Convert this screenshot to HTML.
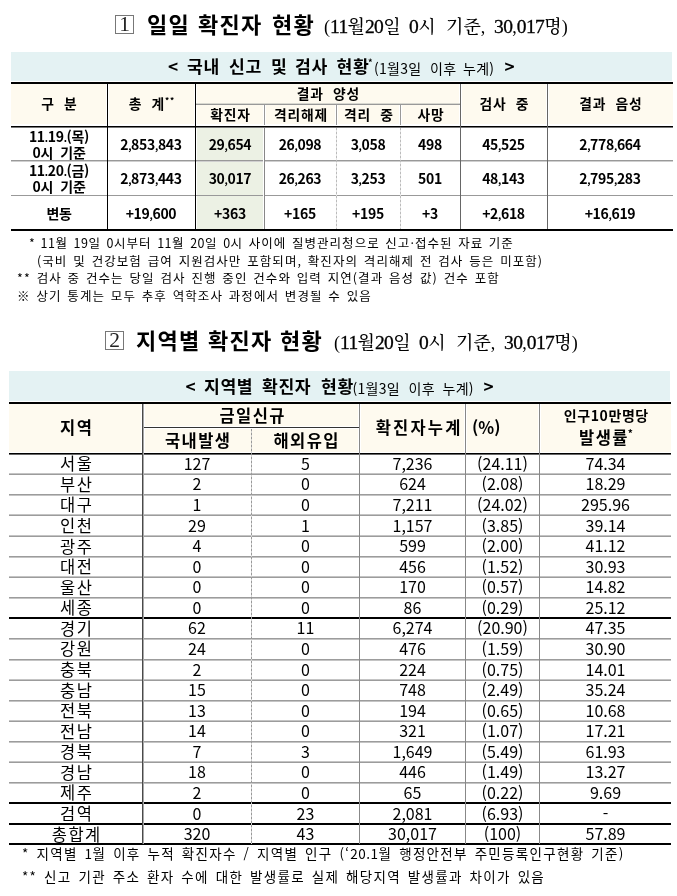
<!DOCTYPE html>
<html lang="ko"><head><meta charset="utf-8"><title>코로나19 확진자 현황</title>
<style>
html,body{margin:0;padding:0;background:#fff;}
body{width:677px;height:896px;position:relative;overflow:hidden;color:#000;}
.r{position:absolute;}
.w{position:absolute;white-space:nowrap;}
.d{letter-spacing:0.5px;}
.sd{font-size:19.5px;letter-spacing:-0.6px;-webkit-text-stroke:0.3px #000;}
.sh{font-weight:500;}
.cm{font-size:0.72em;letter-spacing:-0.4px;line-height:0;}
.cm2{letter-spacing:-1.2px;}
.t{position:absolute;display:flex;align-items:center;justify-content:center;text-align:center;white-space:nowrap;line-height:1;}
sup{font-size:0.6em;vertical-align:top;line-height:1;position:relative;top:-0.5px;}
.sm{font-size:12.5px;font-weight:400;letter-spacing:0.5px;}
</style></head><body>
<div class="r" style="left:115px;top:15px;width:19px;height:19px;background:transparent;border:1px solid #777;box-sizing:border-box;"></div>
<div class="t" style="left:115px;top:15px;width:19px;height:19px;font-family:'Liberation Serif', 'Noto Serif CJK SC', serif;font-size:21.5px;color:#222;padding-top:0px;box-sizing:border-box;"><span>1</span></div>
<div class="w" style="left:147px;top:8px;font-family:'Noto Sans CJK KR', sans-serif;font-size:22px;font-weight:700;letter-spacing:1.3px;line-height:30px;">일일</div>
<div class="w" style="left:198px;top:8px;font-family:'Noto Sans CJK KR', sans-serif;font-size:22px;font-weight:700;letter-spacing:1.3px;line-height:30px;">확진자</div>
<div class="w" style="left:272px;top:8px;font-family:'Noto Sans CJK KR', sans-serif;font-size:22px;font-weight:700;letter-spacing:1.3px;line-height:30px;">현황</div>
<div class="w" style="left:324px;top:11.5px;font-family:'Liberation Serif', 'Noto Serif CJK SC', serif;font-size:18px;line-height:30px;">(<span class="sd">11</span><span class="sh">월</span><span class="sd">20</span><span class="sh">일</span></div>
<div class="w" style="left:409px;top:11.5px;font-family:'Liberation Serif', 'Noto Serif CJK SC', serif;font-size:18px;line-height:30px;"><span class="sd">0</span><span class="sh">시</span></div>
<div class="w" style="left:446px;top:11.5px;font-family:'Liberation Serif', 'Noto Serif CJK SC', serif;font-size:18px;line-height:30px;"><span class="sh">기준</span>,</div>
<div class="w" style="left:494px;top:11.5px;font-family:'Liberation Serif', 'Noto Serif CJK SC', serif;font-size:18px;line-height:30px;"><span class="sd">30</span>,<span class="sd">017</span><span class="sh">명</span>)</div>
<div class="r" style="left:11px;top:52px;width:661px;height:29px;background:#e4f2f3;"></div>
<div class="w" style="left:168px;top:56px;font-family:'Noto Sans CJK KR', sans-serif;font-size:17.2px;font-weight:700;line-height:20px;letter-spacing:0.6px;">&lt;</div>
<div class="w" style="left:187px;top:56px;font-family:'Noto Sans CJK KR', sans-serif;font-size:17.2px;font-weight:700;line-height:20px;letter-spacing:0.6px;">국내</div>
<div class="w" style="left:229px;top:56px;font-family:'Noto Sans CJK KR', sans-serif;font-size:17.2px;font-weight:700;line-height:20px;letter-spacing:0.6px;">신고</div>
<div class="w" style="left:271px;top:56px;font-family:'Noto Sans CJK KR', sans-serif;font-size:17.2px;font-weight:700;line-height:20px;letter-spacing:0.6px;">및</div>
<div class="w" style="left:295px;top:56px;font-family:'Noto Sans CJK KR', sans-serif;font-size:17.2px;font-weight:700;line-height:20px;letter-spacing:0.6px;">검사</div>
<div class="w" style="left:336.5px;top:56px;font-family:'Noto Sans CJK KR', sans-serif;font-size:17.2px;font-weight:700;line-height:20px;letter-spacing:0.6px;">현황</div>
<div class="w" style="left:368px;top:56px;font-family:'Noto Sans CJK KR', sans-serif;font-size:17.2px;font-weight:700;line-height:20px;letter-spacing:0.6px;"><span style="font-size:9px;vertical-align:top;position:relative;top:-3px">*</span></div>
<div class="w" style="left:374px;top:57.5px;font-family:'Noto Sans CJK KR', sans-serif;font-size:14px;font-weight:400;line-height:20px;letter-spacing:0.3px;">(1월3일</div>
<div class="w" style="left:430px;top:57.5px;font-family:'Noto Sans CJK KR', sans-serif;font-size:14px;font-weight:400;line-height:20px;letter-spacing:0.3px;">이후</div>
<div class="w" style="left:463px;top:57.5px;font-family:'Noto Sans CJK KR', sans-serif;font-size:14px;font-weight:400;line-height:20px;letter-spacing:0.3px;">누계)</div>
<div class="w" style="left:504.5px;top:56px;font-family:'Noto Sans CJK KR', sans-serif;font-size:17.2px;font-weight:700;line-height:20px;letter-spacing:0.6px;">&gt;</div>
<div class="r" style="left:11px;top:82px;width:662px;height:2px;background:#000;"></div>
<div class="r" style="left:11px;top:84px;width:662px;height:40px;background:#fefaef;"></div>
<div class="r" style="left:11px;top:126px;width:662px;height:1px;background:#000;"></div>
<div class="r" style="left:11px;top:127px;width:662px;height:1px;background:#777;"></div>
<div class="r" style="left:197px;top:128px;width:66px;height:101px;background:#ecf1e4;"></div>
<div class="r" style="left:106px;top:84px;width:1px;height:41px;background:#fff;"></div>
<div class="r" style="left:108px;top:84px;width:1px;height:41px;background:#fff;"></div>
<div class="r" style="left:194px;top:84px;width:1px;height:41px;background:#fff;"></div>
<div class="r" style="left:196px;top:84px;width:1px;height:41px;background:#fff;"></div>
<div class="r" style="left:459px;top:84px;width:1px;height:41px;background:#fff;"></div>
<div class="r" style="left:461px;top:84px;width:1px;height:41px;background:#fff;"></div>
<div class="r" style="left:546px;top:84px;width:1px;height:41px;background:#fff;"></div>
<div class="r" style="left:548px;top:84px;width:1px;height:41px;background:#fff;"></div>
<div class="r" style="left:263px;top:105px;width:1px;height:20px;background:#fff;"></div>
<div class="r" style="left:265px;top:105px;width:1px;height:20px;background:#fff;"></div>
<div class="r" style="left:335px;top:105px;width:1px;height:20px;background:#fff;"></div>
<div class="r" style="left:337px;top:105px;width:1px;height:20px;background:#fff;"></div>
<div class="r" style="left:399px;top:105px;width:1px;height:20px;background:#fff;"></div>
<div class="r" style="left:401px;top:105px;width:1px;height:20px;background:#fff;"></div>
<div class="r" style="left:196px;top:104px;width:264px;height:1px;background:#999;"></div>
<div class="r" style="left:196px;top:103px;width:264px;height:1px;background:#d8d8d0;"></div>
<div class="r" style="left:11px;top:160px;width:662px;height:1px;background:#999;"></div>
<div class="r" style="left:11px;top:161px;width:662px;height:1px;background:#cfcfcf;"></div>
<div class="r" style="left:11px;top:195px;width:662px;height:1px;background:#999;"></div>
<div class="r" style="left:11px;top:229px;width:662px;height:2px;background:#000;"></div>
<div class="r" style="left:107px;top:84px;width:1px;height:145px;background:#000;"></div>
<div class="r" style="left:195px;top:84px;width:1px;height:145px;background:#000;"></div>
<div class="r" style="left:460px;top:84px;width:1px;height:145px;background:#666;"></div>
<div class="r" style="left:547px;top:84px;width:1px;height:145px;background:#666;"></div>
<div class="r" style="left:264px;top:105px;width:1px;height:20px;background:#999;"></div>
<div class="r" style="left:336px;top:105px;width:1px;height:20px;background:#999;"></div>
<div class="r" style="left:400px;top:105px;width:1px;height:20px;background:#999;"></div>
<div class="r" style="left:264px;top:128px;width:1px;height:101px;background:#888;"></div>
<div class="r" style="left:263px;top:128px;width:1px;height:101px;background:#fff;"></div>
<div class="r" style="left:336px;top:128px;width:1px;height:101px;background:repeating-linear-gradient(to bottom,#bbb 0 2px,#e4e4e4 2px 4px);"></div>
<div class="r" style="left:400px;top:128px;width:1px;height:101px;background:repeating-linear-gradient(to bottom,#bbb 0 2px,#e4e4e4 2px 4px);"></div>
<div class="t" style="left:11px;top:83px;width:96px;height:41px;font-family:'Noto Sans CJK KR', sans-serif;font-size:13.8px;font-weight:700;letter-spacing:0.8px;padding-left:0.8px;box-sizing:border-box;"><span>구&nbsp; 분</span></div>
<div class="t" style="left:108px;top:83px;width:87px;height:41px;font-family:'Noto Sans CJK KR', sans-serif;font-size:13.8px;font-weight:700;letter-spacing:0.8px;padding-left:0.8px;box-sizing:border-box;"><span>총&nbsp; 계<sup>**</sup></span></div>
<div class="t" style="left:196px;top:83.5px;width:264px;height:20px;font-family:'Noto Sans CJK KR', sans-serif;font-size:13.8px;font-weight:700;letter-spacing:0.8px;padding-left:0.8px;box-sizing:border-box;"><span>결과&nbsp; 양성</span></div>
<div class="t" style="left:196px;top:104.5px;width:68px;height:20px;font-family:'Noto Sans CJK KR', sans-serif;font-size:13.8px;font-weight:700;letter-spacing:0.8px;padding-left:0.8px;box-sizing:border-box;"><span>확진자</span></div>
<div class="t" style="left:265px;top:104.5px;width:71px;height:20px;font-family:'Noto Sans CJK KR', sans-serif;font-size:13.8px;font-weight:700;letter-spacing:0.8px;padding-left:0.8px;box-sizing:border-box;"><span>격리해제</span></div>
<div class="t" style="left:337px;top:104.5px;width:63px;height:20px;font-family:'Noto Sans CJK KR', sans-serif;font-size:13.8px;font-weight:700;letter-spacing:0.8px;padding-left:0.8px;box-sizing:border-box;"><span>격리&nbsp; 중</span></div>
<div class="t" style="left:401px;top:104.5px;width:59px;height:20px;font-family:'Noto Sans CJK KR', sans-serif;font-size:13.8px;font-weight:700;letter-spacing:0.8px;padding-left:0.8px;box-sizing:border-box;"><span>사망</span></div>
<div class="t" style="left:461px;top:83px;width:86px;height:41px;font-family:'Noto Sans CJK KR', sans-serif;font-size:13.8px;font-weight:700;letter-spacing:0.8px;padding-left:0.8px;box-sizing:border-box;"><span>검사&nbsp; 중</span></div>
<div class="t" style="left:548px;top:83px;width:125px;height:41px;font-family:'Noto Sans CJK KR', sans-serif;font-size:13.8px;font-weight:700;letter-spacing:0.8px;padding-left:0.8px;box-sizing:border-box;"><span>결과&nbsp; 음성</span></div>
<div class="t" style="left:11px;top:127px;width:96px;height:33px;font-family:'Noto Sans CJK KR', sans-serif;font-size:14px;font-weight:700;letter-spacing:-0.3px;line-height:16px;"><span>11<span class="cm">.</span>19<span class="cm">.</span>(목)<br>0시&nbsp; 기준</span></div>
<div class="t" style="left:107px;top:127px;width:88px;height:33px;font-family:'Noto Sans CJK KR', sans-serif;font-size:14px;font-weight:700;letter-spacing:-0.3px;"><span>2<span class="cm">,</span>853<span class="cm">,</span>843</span></div>
<div class="t" style="left:196px;top:127px;width:68px;height:33px;font-family:'Noto Sans CJK KR', sans-serif;font-size:14px;font-weight:700;letter-spacing:-0.3px;"><span>29<span class="cm">,</span>654</span></div>
<div class="t" style="left:264px;top:127px;width:72px;height:33px;font-family:'Noto Sans CJK KR', sans-serif;font-size:14px;font-weight:700;letter-spacing:-0.3px;"><span>26<span class="cm">,</span>098</span></div>
<div class="t" style="left:336px;top:127px;width:64px;height:33px;font-family:'Noto Sans CJK KR', sans-serif;font-size:14px;font-weight:700;letter-spacing:-0.3px;"><span>3<span class="cm">,</span>058</span></div>
<div class="t" style="left:400px;top:127px;width:60px;height:33px;font-family:'Noto Sans CJK KR', sans-serif;font-size:14px;font-weight:700;letter-spacing:-0.3px;"><span>498</span></div>
<div class="t" style="left:460px;top:127px;width:87px;height:33px;font-family:'Noto Sans CJK KR', sans-serif;font-size:14px;font-weight:700;letter-spacing:-0.3px;"><span>45<span class="cm">,</span>525</span></div>
<div class="t" style="left:547px;top:127px;width:126px;height:33px;font-family:'Noto Sans CJK KR', sans-serif;font-size:14px;font-weight:700;letter-spacing:-0.3px;"><span>2<span class="cm">,</span>778<span class="cm">,</span>664</span></div>
<div class="t" style="left:11px;top:161px;width:96px;height:34px;font-family:'Noto Sans CJK KR', sans-serif;font-size:14px;font-weight:700;letter-spacing:-0.3px;line-height:16px;"><span>11<span class="cm">.</span>20<span class="cm">.</span>(금)<br>0시&nbsp; 기준</span></div>
<div class="t" style="left:107px;top:161px;width:88px;height:34px;font-family:'Noto Sans CJK KR', sans-serif;font-size:14px;font-weight:700;letter-spacing:-0.3px;"><span>2<span class="cm">,</span>873<span class="cm">,</span>443</span></div>
<div class="t" style="left:196px;top:161px;width:68px;height:34px;font-family:'Noto Sans CJK KR', sans-serif;font-size:14px;font-weight:700;letter-spacing:-0.3px;"><span>30<span class="cm">,</span>017</span></div>
<div class="t" style="left:264px;top:161px;width:72px;height:34px;font-family:'Noto Sans CJK KR', sans-serif;font-size:14px;font-weight:700;letter-spacing:-0.3px;"><span>26<span class="cm">,</span>263</span></div>
<div class="t" style="left:336px;top:161px;width:64px;height:34px;font-family:'Noto Sans CJK KR', sans-serif;font-size:14px;font-weight:700;letter-spacing:-0.3px;"><span>3<span class="cm">,</span>253</span></div>
<div class="t" style="left:400px;top:161px;width:60px;height:34px;font-family:'Noto Sans CJK KR', sans-serif;font-size:14px;font-weight:700;letter-spacing:-0.3px;"><span>501</span></div>
<div class="t" style="left:460px;top:161px;width:87px;height:34px;font-family:'Noto Sans CJK KR', sans-serif;font-size:14px;font-weight:700;letter-spacing:-0.3px;"><span>48<span class="cm">,</span>143</span></div>
<div class="t" style="left:547px;top:161px;width:126px;height:34px;font-family:'Noto Sans CJK KR', sans-serif;font-size:14px;font-weight:700;letter-spacing:-0.3px;"><span>2<span class="cm">,</span>795<span class="cm">,</span>283</span></div>
<div class="t" style="left:11px;top:196px;width:96px;height:33px;font-family:'Noto Sans CJK KR', sans-serif;font-size:14px;font-weight:700;letter-spacing:-0.3px;"><span>변동</span></div>
<div class="t" style="left:107px;top:196px;width:88px;height:33px;font-family:'Noto Sans CJK KR', sans-serif;font-size:14px;font-weight:700;letter-spacing:-0.3px;"><span>+19<span class="cm">,</span>600</span></div>
<div class="t" style="left:196px;top:196px;width:68px;height:33px;font-family:'Noto Sans CJK KR', sans-serif;font-size:14px;font-weight:700;letter-spacing:-0.3px;"><span>+363</span></div>
<div class="t" style="left:264px;top:196px;width:72px;height:33px;font-family:'Noto Sans CJK KR', sans-serif;font-size:14px;font-weight:700;letter-spacing:-0.3px;"><span>+165</span></div>
<div class="t" style="left:336px;top:196px;width:64px;height:33px;font-family:'Noto Sans CJK KR', sans-serif;font-size:14px;font-weight:700;letter-spacing:-0.3px;"><span>+195</span></div>
<div class="t" style="left:400px;top:196px;width:60px;height:33px;font-family:'Noto Sans CJK KR', sans-serif;font-size:14px;font-weight:700;letter-spacing:-0.3px;"><span>+3</span></div>
<div class="t" style="left:460px;top:196px;width:87px;height:33px;font-family:'Noto Sans CJK KR', sans-serif;font-size:14px;font-weight:700;letter-spacing:-0.3px;"><span>+2<span class="cm">,</span>618</span></div>
<div class="t" style="left:547px;top:196px;width:126px;height:33px;font-family:'Noto Sans CJK KR', sans-serif;font-size:14px;font-weight:700;letter-spacing:-0.3px;"><span>+16<span class="cm">,</span>619</span></div>
<div class="w" style="left:29px;top:233.8px;font-family:'Noto Sans CJK KR', sans-serif;font-size:12.5px;white-space:pre;letter-spacing:1.05px;word-spacing:1.3px;line-height:17px;">*</div>
<div class="w" style="left:40.5px;top:233.8px;font-family:'Noto Sans CJK KR', sans-serif;font-size:12.5px;white-space:pre;letter-spacing:1.05px;word-spacing:1.3px;line-height:17px;word-spacing:1.0px;"><span class="d">11</span>월 <span class="d">19</span>일 <span class="d">0</span>시부터 <span class="d">11</span>월 <span class="d">20</span>일 <span class="d">0</span>시 사이에 질병관리청으로 신고·접수된 자료 기준</div>
<div class="w" style="left:37px;top:251.7px;font-family:'Noto Sans CJK KR', sans-serif;font-size:12.5px;white-space:pre;letter-spacing:1.05px;word-spacing:1.3px;line-height:17px;">(국비 및 건강보험 급여 지원검사만 포함되며, 확진자의 격리해제 전 검사 등은 미포함)</div>
<div class="w" style="left:17px;top:269px;font-family:'Noto Sans CJK KR', sans-serif;font-size:12.5px;white-space:pre;letter-spacing:1.05px;word-spacing:1.3px;line-height:17px;">** 검사 중 건수는 당일 검사 진행 중인 건수와 입력 지연(결과 음성 값) 건수 포함</div>
<div class="w" style="left:17px;top:287px;font-family:'Noto Sans CJK KR', sans-serif;font-size:12.5px;white-space:pre;letter-spacing:1.05px;word-spacing:1.3px;line-height:17px;">※ 상기 통계는 모두 추후 역학조사 과정에서 변경될 수 있음</div>
<div class="r" style="left:105px;top:331px;width:19px;height:19px;background:transparent;border:1px solid #777;box-sizing:border-box;"></div>
<div class="t" style="left:105px;top:331px;width:19px;height:19px;font-family:'Liberation Serif', 'Noto Serif CJK SC', serif;font-size:21.5px;color:#222;padding-top:0px;box-sizing:border-box;"><span>2</span></div>
<div class="w" style="left:136px;top:324px;font-family:'Noto Sans CJK KR', sans-serif;font-size:22px;font-weight:700;letter-spacing:1.3px;line-height:30px;">지역별</div>
<div class="w" style="left:208px;top:324px;font-family:'Noto Sans CJK KR', sans-serif;font-size:22px;font-weight:700;letter-spacing:1.3px;line-height:30px;">확진자</div>
<div class="w" style="left:280px;top:324px;font-family:'Noto Sans CJK KR', sans-serif;font-size:22px;font-weight:700;letter-spacing:1.3px;line-height:30px;">현황</div>
<div class="w" style="left:334px;top:327.5px;font-family:'Liberation Serif', 'Noto Serif CJK SC', serif;font-size:18px;line-height:30px;">(<span class="sd">11</span><span class="sh">월</span><span class="sd">20</span><span class="sh">일</span></div>
<div class="w" style="left:419px;top:327.5px;font-family:'Liberation Serif', 'Noto Serif CJK SC', serif;font-size:18px;line-height:30px;"><span class="sd">0</span><span class="sh">시</span></div>
<div class="w" style="left:456px;top:327.5px;font-family:'Liberation Serif', 'Noto Serif CJK SC', serif;font-size:18px;line-height:30px;"><span class="sh">기준</span>,</div>
<div class="w" style="left:504px;top:327.5px;font-family:'Liberation Serif', 'Noto Serif CJK SC', serif;font-size:18px;line-height:30px;"><span class="sd">30</span>,<span class="sd">017</span><span class="sh">명</span>)</div>
<div class="r" style="left:9px;top:371px;width:661px;height:30px;background:#e4f2f3;"></div>
<div class="w" style="left:185.5px;top:376px;font-family:'Noto Sans CJK KR', sans-serif;font-size:17.2px;font-weight:700;line-height:20px;letter-spacing:0.6px;">&lt;</div>
<div class="w" style="left:204px;top:376px;font-family:'Noto Sans CJK KR', sans-serif;font-size:17.2px;font-weight:700;line-height:20px;letter-spacing:0.6px;">지역별</div>
<div class="w" style="left:262px;top:376px;font-family:'Noto Sans CJK KR', sans-serif;font-size:17.2px;font-weight:700;line-height:20px;letter-spacing:0.6px;">확진자</div>
<div class="w" style="left:321px;top:376px;font-family:'Noto Sans CJK KR', sans-serif;font-size:17.2px;font-weight:700;line-height:20px;letter-spacing:0.6px;">현황</div>
<div class="w" style="left:352.5px;top:377.5px;font-family:'Noto Sans CJK KR', sans-serif;font-size:14px;font-weight:400;line-height:20px;letter-spacing:0.3px;">(1월3일</div>
<div class="w" style="left:408.5px;top:377.5px;font-family:'Noto Sans CJK KR', sans-serif;font-size:14px;font-weight:400;line-height:20px;letter-spacing:0.3px;">이후</div>
<div class="w" style="left:442.5px;top:377.5px;font-family:'Noto Sans CJK KR', sans-serif;font-size:14px;font-weight:400;line-height:20px;letter-spacing:0.3px;">누계)</div>
<div class="w" style="left:483.5px;top:376px;font-family:'Noto Sans CJK KR', sans-serif;font-size:17.2px;font-weight:700;line-height:20px;letter-spacing:0.6px;">&gt;</div>
<div class="r" style="left:9px;top:402px;width:662px;height:2px;background:#000;"></div>
<div class="r" style="left:9px;top:404px;width:662px;height:48px;background:#fefaef;"></div>
<div class="r" style="left:9px;top:452px;width:662px;height:1px;background:#fff;"></div>
<div class="r" style="left:141px;top:404px;width:1px;height:48px;background:#fff;"></div>
<div class="r" style="left:144px;top:404px;width:1px;height:48px;background:#fff;"></div>
<div class="r" style="left:358px;top:404px;width:1px;height:48px;background:#fff;"></div>
<div class="r" style="left:360px;top:404px;width:1px;height:48px;background:#fff;"></div>
<div class="r" style="left:464px;top:404px;width:1px;height:48px;background:#fff;"></div>
<div class="r" style="left:466px;top:404px;width:1px;height:48px;background:#fff;"></div>
<div class="r" style="left:538px;top:404px;width:1px;height:48px;background:#fff;"></div>
<div class="r" style="left:540px;top:404px;width:1px;height:48px;background:#fff;"></div>
<div class="r" style="left:143px;top:427px;width:217px;height:1px;background:#333;"></div>
<div class="r" style="left:143px;top:426px;width:217px;height:1px;background:#fff;"></div>
<div class="r" style="left:143px;top:428px;width:217px;height:1px;background:#fff;"></div>
<div class="r" style="left:9px;top:453px;width:662px;height:1px;background:#000;"></div>
<div class="r" style="left:9px;top:454px;width:662px;height:1px;background:#666;"></div>
<div class="r" style="left:9px;top:473px;width:662px;height:1px;background:#c4c4c4;"></div>
<div class="r" style="left:9px;top:474px;width:662px;height:1px;background:#9c9c9c;"></div>
<div class="r" style="left:9px;top:495px;width:662px;height:1px;background:#c4c4c4;"></div>
<div class="r" style="left:9px;top:494px;width:662px;height:1px;background:#9c9c9c;"></div>
<div class="r" style="left:9px;top:514px;width:662px;height:1px;background:#c4c4c4;"></div>
<div class="r" style="left:9px;top:515px;width:662px;height:1px;background:#9c9c9c;"></div>
<div class="r" style="left:9px;top:535px;width:662px;height:1px;background:#c4c4c4;"></div>
<div class="r" style="left:9px;top:536px;width:662px;height:1px;background:#9c9c9c;"></div>
<div class="r" style="left:9px;top:557px;width:662px;height:1px;background:#c4c4c4;"></div>
<div class="r" style="left:9px;top:556px;width:662px;height:1px;background:#9c9c9c;"></div>
<div class="r" style="left:9px;top:576px;width:662px;height:1px;background:#c4c4c4;"></div>
<div class="r" style="left:9px;top:577px;width:662px;height:1px;background:#9c9c9c;"></div>
<div class="r" style="left:9px;top:598px;width:662px;height:1px;background:#c4c4c4;"></div>
<div class="r" style="left:9px;top:597px;width:662px;height:1px;background:#9c9c9c;"></div>
<div class="r" style="left:9px;top:617px;width:662px;height:2px;background:#000;"></div>
<div class="r" style="left:9px;top:639px;width:662px;height:1px;background:#c4c4c4;"></div>
<div class="r" style="left:9px;top:638px;width:662px;height:1px;background:#9c9c9c;"></div>
<div class="r" style="left:9px;top:660px;width:662px;height:1px;background:#c4c4c4;"></div>
<div class="r" style="left:9px;top:659px;width:662px;height:1px;background:#9c9c9c;"></div>
<div class="r" style="left:9px;top:679px;width:662px;height:1px;background:#c4c4c4;"></div>
<div class="r" style="left:9px;top:680px;width:662px;height:1px;background:#9c9c9c;"></div>
<div class="r" style="left:9px;top:701px;width:662px;height:1px;background:#c4c4c4;"></div>
<div class="r" style="left:9px;top:700px;width:662px;height:1px;background:#9c9c9c;"></div>
<div class="r" style="left:9px;top:720px;width:662px;height:1px;background:#c4c4c4;"></div>
<div class="r" style="left:9px;top:721px;width:662px;height:1px;background:#9c9c9c;"></div>
<div class="r" style="left:9px;top:742px;width:662px;height:1px;background:#c4c4c4;"></div>
<div class="r" style="left:9px;top:741px;width:662px;height:1px;background:#9c9c9c;"></div>
<div class="r" style="left:9px;top:761px;width:662px;height:1px;background:#c4c4c4;"></div>
<div class="r" style="left:9px;top:762px;width:662px;height:1px;background:#9c9c9c;"></div>
<div class="r" style="left:9px;top:783px;width:662px;height:1px;background:#c4c4c4;"></div>
<div class="r" style="left:9px;top:782px;width:662px;height:1px;background:#9c9c9c;"></div>
<div class="r" style="left:9px;top:802px;width:662px;height:2px;background:#000;"></div>
<div class="r" style="left:9px;top:823px;width:662px;height:2px;background:#000;"></div>
<div class="r" style="left:9px;top:843px;width:662px;height:2px;background:#000;"></div>
<div class="r" style="left:142px;top:404px;width:1px;height:440px;background:#4a4a4a;"></div>
<div class="r" style="left:143px;top:404px;width:1px;height:440px;background:#a8a8a8;"></div>
<div class="r" style="left:359px;top:404px;width:1px;height:440px;background:#888;"></div>
<div class="r" style="left:465px;top:404px;width:1px;height:440px;background:#888;"></div>
<div class="r" style="left:539px;top:404px;width:1px;height:440px;background:#888;"></div>
<div class="r" style="left:251px;top:429px;width:1px;height:415px;background:repeating-linear-gradient(to bottom,#999 0 2px,#d0d0d0 2px 4px);"></div>
<div class="t" style="left:9px;top:403px;width:134px;height:48px;font-family:'Noto Sans CJK KR', sans-serif;font-size:16.5px;font-weight:700;letter-spacing:1.4px;padding-left:1.4px;box-sizing:border-box;"><span>지역</span></div>
<div class="t" style="left:144px;top:404px;width:216px;height:23px;font-family:'Noto Sans CJK KR', sans-serif;font-size:16.5px;font-weight:700;letter-spacing:1.4px;padding-left:1.4px;box-sizing:border-box;"><span>금일신규</span></div>
<div class="t" style="left:144px;top:428px;width:107px;height:24px;font-family:'Noto Sans CJK KR', sans-serif;font-size:16.5px;font-weight:700;letter-spacing:1.4px;padding-left:1.4px;box-sizing:border-box;"><span>국내발생</span></div>
<div class="t" style="left:252px;top:428px;width:108px;height:24px;font-family:'Noto Sans CJK KR', sans-serif;font-size:16.5px;font-weight:700;letter-spacing:1.4px;padding-left:1.4px;box-sizing:border-box;"><span>해외유입</span></div>
<div class="t" style="left:366px;top:403px;width:104px;height:48px;font-family:'Noto Sans CJK KR', sans-serif;font-size:16.5px;font-weight:700;letter-spacing:2.2px;padding-left:2.2px;box-sizing:border-box;"><span>확진자누계</span></div>
<div class="t" style="left:466px;top:403px;width:74px;height:48px;font-family:'Noto Sans CJK KR', sans-serif;font-size:16.5px;font-weight:700;justify-content:flex-start;padding-left:6px;box-sizing:border-box;"><span>(%)</span></div>
<div class="t" style="left:541px;top:404px;width:130px;height:22px;font-family:'Noto Sans CJK KR', sans-serif;font-size:14px;font-weight:700;letter-spacing:0.6px;padding-left:0.6px;box-sizing:border-box;"><span>인구10만명당</span></div>
<div class="t" style="left:541px;top:426px;width:130px;height:22px;font-family:'Noto Sans CJK KR', sans-serif;font-size:16.5px;font-weight:700;letter-spacing:1.4px;padding-left:1.4px;box-sizing:border-box;"><span>발생률<span style="font-size:10px;position:relative;top:-6.5px;margin-left:-1px">*</span></span></div>
<div class="t" style="left:9px;top:453px;width:134px;height:21px;font-family:'Noto Sans CJK KR', sans-serif;font-size:16.5px;letter-spacing:1.5px;padding-left:1.5px;box-sizing:border-box;"><span>서울</span></div>
<div class="t" style="left:143px;top:453px;width:108px;height:21px;font-family:'Noto Sans CJK KR', sans-serif;font-size:16.5px;font-size:16px;padding-bottom:1.5px;box-sizing:border-box;"><span>127</span></div>
<div class="t" style="left:251px;top:453px;width:109px;height:21px;font-family:'Noto Sans CJK KR', sans-serif;font-size:16.5px;font-size:16px;padding-bottom:1.5px;box-sizing:border-box;"><span>5</span></div>
<div class="t" style="left:360px;top:453px;width:105px;height:21px;font-family:'Noto Sans CJK KR', sans-serif;font-size:16.5px;font-size:16px;padding-bottom:1.5px;box-sizing:border-box;"><span>7,236</span></div>
<div class="t" style="left:465px;top:453px;width:75px;height:21px;font-family:'Noto Sans CJK KR', sans-serif;font-size:16.5px;font-size:16px;padding-bottom:1.5px;box-sizing:border-box;"><span>(24.11)</span></div>
<div class="t" style="left:540px;top:453px;width:131px;height:21px;font-family:'Noto Sans CJK KR', sans-serif;font-size:16.5px;font-size:16px;padding-bottom:1.5px;box-sizing:border-box;"><span>74.34</span></div>
<div class="t" style="left:9px;top:474px;width:134px;height:20px;font-family:'Noto Sans CJK KR', sans-serif;font-size:16.5px;letter-spacing:1.5px;padding-left:1.5px;box-sizing:border-box;"><span>부산</span></div>
<div class="t" style="left:143px;top:474px;width:108px;height:20px;font-family:'Noto Sans CJK KR', sans-serif;font-size:16.5px;font-size:16px;padding-bottom:1.5px;box-sizing:border-box;"><span>2</span></div>
<div class="t" style="left:251px;top:474px;width:109px;height:20px;font-family:'Noto Sans CJK KR', sans-serif;font-size:16.5px;font-size:16px;padding-bottom:1.5px;box-sizing:border-box;"><span>0</span></div>
<div class="t" style="left:360px;top:474px;width:105px;height:20px;font-family:'Noto Sans CJK KR', sans-serif;font-size:16.5px;font-size:16px;padding-bottom:1.5px;box-sizing:border-box;"><span>624</span></div>
<div class="t" style="left:465px;top:474px;width:75px;height:20px;font-family:'Noto Sans CJK KR', sans-serif;font-size:16.5px;font-size:16px;padding-bottom:1.5px;box-sizing:border-box;"><span>(2.08)</span></div>
<div class="t" style="left:540px;top:474px;width:131px;height:20px;font-family:'Noto Sans CJK KR', sans-serif;font-size:16.5px;font-size:16px;padding-bottom:1.5px;box-sizing:border-box;"><span>18.29</span></div>
<div class="t" style="left:9px;top:494px;width:134px;height:21px;font-family:'Noto Sans CJK KR', sans-serif;font-size:16.5px;letter-spacing:1.5px;padding-left:1.5px;box-sizing:border-box;"><span>대구</span></div>
<div class="t" style="left:143px;top:494px;width:108px;height:21px;font-family:'Noto Sans CJK KR', sans-serif;font-size:16.5px;font-size:16px;padding-bottom:1.5px;box-sizing:border-box;"><span>1</span></div>
<div class="t" style="left:251px;top:494px;width:109px;height:21px;font-family:'Noto Sans CJK KR', sans-serif;font-size:16.5px;font-size:16px;padding-bottom:1.5px;box-sizing:border-box;"><span>0</span></div>
<div class="t" style="left:360px;top:494px;width:105px;height:21px;font-family:'Noto Sans CJK KR', sans-serif;font-size:16.5px;font-size:16px;padding-bottom:1.5px;box-sizing:border-box;"><span>7,211</span></div>
<div class="t" style="left:465px;top:494px;width:75px;height:21px;font-family:'Noto Sans CJK KR', sans-serif;font-size:16.5px;font-size:16px;padding-bottom:1.5px;box-sizing:border-box;"><span>(24.02)</span></div>
<div class="t" style="left:540px;top:494px;width:131px;height:21px;font-family:'Noto Sans CJK KR', sans-serif;font-size:16.5px;font-size:16px;padding-bottom:1.5px;box-sizing:border-box;"><span>295.96</span></div>
<div class="t" style="left:9px;top:515px;width:134px;height:21px;font-family:'Noto Sans CJK KR', sans-serif;font-size:16.5px;letter-spacing:1.5px;padding-left:1.5px;box-sizing:border-box;"><span>인천</span></div>
<div class="t" style="left:143px;top:515px;width:108px;height:21px;font-family:'Noto Sans CJK KR', sans-serif;font-size:16.5px;font-size:16px;padding-bottom:1.5px;box-sizing:border-box;"><span>29</span></div>
<div class="t" style="left:251px;top:515px;width:109px;height:21px;font-family:'Noto Sans CJK KR', sans-serif;font-size:16.5px;font-size:16px;padding-bottom:1.5px;box-sizing:border-box;"><span>1</span></div>
<div class="t" style="left:360px;top:515px;width:105px;height:21px;font-family:'Noto Sans CJK KR', sans-serif;font-size:16.5px;font-size:16px;padding-bottom:1.5px;box-sizing:border-box;"><span>1,157</span></div>
<div class="t" style="left:465px;top:515px;width:75px;height:21px;font-family:'Noto Sans CJK KR', sans-serif;font-size:16.5px;font-size:16px;padding-bottom:1.5px;box-sizing:border-box;"><span>(3.85)</span></div>
<div class="t" style="left:540px;top:515px;width:131px;height:21px;font-family:'Noto Sans CJK KR', sans-serif;font-size:16.5px;font-size:16px;padding-bottom:1.5px;box-sizing:border-box;"><span>39.14</span></div>
<div class="t" style="left:9px;top:536px;width:134px;height:20px;font-family:'Noto Sans CJK KR', sans-serif;font-size:16.5px;letter-spacing:1.5px;padding-left:1.5px;box-sizing:border-box;"><span>광주</span></div>
<div class="t" style="left:143px;top:536px;width:108px;height:20px;font-family:'Noto Sans CJK KR', sans-serif;font-size:16.5px;font-size:16px;padding-bottom:1.5px;box-sizing:border-box;"><span>4</span></div>
<div class="t" style="left:251px;top:536px;width:109px;height:20px;font-family:'Noto Sans CJK KR', sans-serif;font-size:16.5px;font-size:16px;padding-bottom:1.5px;box-sizing:border-box;"><span>0</span></div>
<div class="t" style="left:360px;top:536px;width:105px;height:20px;font-family:'Noto Sans CJK KR', sans-serif;font-size:16.5px;font-size:16px;padding-bottom:1.5px;box-sizing:border-box;"><span>599</span></div>
<div class="t" style="left:465px;top:536px;width:75px;height:20px;font-family:'Noto Sans CJK KR', sans-serif;font-size:16.5px;font-size:16px;padding-bottom:1.5px;box-sizing:border-box;"><span>(2.00)</span></div>
<div class="t" style="left:540px;top:536px;width:131px;height:20px;font-family:'Noto Sans CJK KR', sans-serif;font-size:16.5px;font-size:16px;padding-bottom:1.5px;box-sizing:border-box;"><span>41.12</span></div>
<div class="t" style="left:9px;top:556px;width:134px;height:21px;font-family:'Noto Sans CJK KR', sans-serif;font-size:16.5px;letter-spacing:1.5px;padding-left:1.5px;box-sizing:border-box;"><span>대전</span></div>
<div class="t" style="left:143px;top:556px;width:108px;height:21px;font-family:'Noto Sans CJK KR', sans-serif;font-size:16.5px;font-size:16px;padding-bottom:1.5px;box-sizing:border-box;"><span>0</span></div>
<div class="t" style="left:251px;top:556px;width:109px;height:21px;font-family:'Noto Sans CJK KR', sans-serif;font-size:16.5px;font-size:16px;padding-bottom:1.5px;box-sizing:border-box;"><span>0</span></div>
<div class="t" style="left:360px;top:556px;width:105px;height:21px;font-family:'Noto Sans CJK KR', sans-serif;font-size:16.5px;font-size:16px;padding-bottom:1.5px;box-sizing:border-box;"><span>456</span></div>
<div class="t" style="left:465px;top:556px;width:75px;height:21px;font-family:'Noto Sans CJK KR', sans-serif;font-size:16.5px;font-size:16px;padding-bottom:1.5px;box-sizing:border-box;"><span>(1.52)</span></div>
<div class="t" style="left:540px;top:556px;width:131px;height:21px;font-family:'Noto Sans CJK KR', sans-serif;font-size:16.5px;font-size:16px;padding-bottom:1.5px;box-sizing:border-box;"><span>30.93</span></div>
<div class="t" style="left:9px;top:577px;width:134px;height:20px;font-family:'Noto Sans CJK KR', sans-serif;font-size:16.5px;letter-spacing:1.5px;padding-left:1.5px;box-sizing:border-box;"><span>울산</span></div>
<div class="t" style="left:143px;top:577px;width:108px;height:20px;font-family:'Noto Sans CJK KR', sans-serif;font-size:16.5px;font-size:16px;padding-bottom:1.5px;box-sizing:border-box;"><span>0</span></div>
<div class="t" style="left:251px;top:577px;width:109px;height:20px;font-family:'Noto Sans CJK KR', sans-serif;font-size:16.5px;font-size:16px;padding-bottom:1.5px;box-sizing:border-box;"><span>0</span></div>
<div class="t" style="left:360px;top:577px;width:105px;height:20px;font-family:'Noto Sans CJK KR', sans-serif;font-size:16.5px;font-size:16px;padding-bottom:1.5px;box-sizing:border-box;"><span>170</span></div>
<div class="t" style="left:465px;top:577px;width:75px;height:20px;font-family:'Noto Sans CJK KR', sans-serif;font-size:16.5px;font-size:16px;padding-bottom:1.5px;box-sizing:border-box;"><span>(0.57)</span></div>
<div class="t" style="left:540px;top:577px;width:131px;height:20px;font-family:'Noto Sans CJK KR', sans-serif;font-size:16.5px;font-size:16px;padding-bottom:1.5px;box-sizing:border-box;"><span>14.82</span></div>
<div class="t" style="left:9px;top:597px;width:134px;height:21px;font-family:'Noto Sans CJK KR', sans-serif;font-size:16.5px;letter-spacing:1.5px;padding-left:1.5px;box-sizing:border-box;"><span>세종</span></div>
<div class="t" style="left:143px;top:597px;width:108px;height:21px;font-family:'Noto Sans CJK KR', sans-serif;font-size:16.5px;font-size:16px;padding-bottom:1.5px;box-sizing:border-box;"><span>0</span></div>
<div class="t" style="left:251px;top:597px;width:109px;height:21px;font-family:'Noto Sans CJK KR', sans-serif;font-size:16.5px;font-size:16px;padding-bottom:1.5px;box-sizing:border-box;"><span>0</span></div>
<div class="t" style="left:360px;top:597px;width:105px;height:21px;font-family:'Noto Sans CJK KR', sans-serif;font-size:16.5px;font-size:16px;padding-bottom:1.5px;box-sizing:border-box;"><span>86</span></div>
<div class="t" style="left:465px;top:597px;width:75px;height:21px;font-family:'Noto Sans CJK KR', sans-serif;font-size:16.5px;font-size:16px;padding-bottom:1.5px;box-sizing:border-box;"><span>(0.29)</span></div>
<div class="t" style="left:540px;top:597px;width:131px;height:21px;font-family:'Noto Sans CJK KR', sans-serif;font-size:16.5px;font-size:16px;padding-bottom:1.5px;box-sizing:border-box;"><span>25.12</span></div>
<div class="t" style="left:9px;top:618px;width:134px;height:20px;font-family:'Noto Sans CJK KR', sans-serif;font-size:16.5px;letter-spacing:1.5px;padding-left:1.5px;box-sizing:border-box;"><span>경기</span></div>
<div class="t" style="left:143px;top:618px;width:108px;height:20px;font-family:'Noto Sans CJK KR', sans-serif;font-size:16.5px;font-size:16px;padding-bottom:1.5px;box-sizing:border-box;"><span>62</span></div>
<div class="t" style="left:251px;top:618px;width:109px;height:20px;font-family:'Noto Sans CJK KR', sans-serif;font-size:16.5px;font-size:16px;padding-bottom:1.5px;box-sizing:border-box;"><span>11</span></div>
<div class="t" style="left:360px;top:618px;width:105px;height:20px;font-family:'Noto Sans CJK KR', sans-serif;font-size:16.5px;font-size:16px;padding-bottom:1.5px;box-sizing:border-box;"><span>6,274</span></div>
<div class="t" style="left:465px;top:618px;width:75px;height:20px;font-family:'Noto Sans CJK KR', sans-serif;font-size:16.5px;font-size:16px;padding-bottom:1.5px;box-sizing:border-box;"><span>(20.90)</span></div>
<div class="t" style="left:540px;top:618px;width:131px;height:20px;font-family:'Noto Sans CJK KR', sans-serif;font-size:16.5px;font-size:16px;padding-bottom:1.5px;box-sizing:border-box;"><span>47.35</span></div>
<div class="t" style="left:9px;top:638px;width:134px;height:21px;font-family:'Noto Sans CJK KR', sans-serif;font-size:16.5px;letter-spacing:1.5px;padding-left:1.5px;box-sizing:border-box;"><span>강원</span></div>
<div class="t" style="left:143px;top:638px;width:108px;height:21px;font-family:'Noto Sans CJK KR', sans-serif;font-size:16.5px;font-size:16px;padding-bottom:1.5px;box-sizing:border-box;"><span>24</span></div>
<div class="t" style="left:251px;top:638px;width:109px;height:21px;font-family:'Noto Sans CJK KR', sans-serif;font-size:16.5px;font-size:16px;padding-bottom:1.5px;box-sizing:border-box;"><span>0</span></div>
<div class="t" style="left:360px;top:638px;width:105px;height:21px;font-family:'Noto Sans CJK KR', sans-serif;font-size:16.5px;font-size:16px;padding-bottom:1.5px;box-sizing:border-box;"><span>476</span></div>
<div class="t" style="left:465px;top:638px;width:75px;height:21px;font-family:'Noto Sans CJK KR', sans-serif;font-size:16.5px;font-size:16px;padding-bottom:1.5px;box-sizing:border-box;"><span>(1.59)</span></div>
<div class="t" style="left:540px;top:638px;width:131px;height:21px;font-family:'Noto Sans CJK KR', sans-serif;font-size:16.5px;font-size:16px;padding-bottom:1.5px;box-sizing:border-box;"><span>30.90</span></div>
<div class="t" style="left:9px;top:659px;width:134px;height:21px;font-family:'Noto Sans CJK KR', sans-serif;font-size:16.5px;letter-spacing:1.5px;padding-left:1.5px;box-sizing:border-box;"><span>충북</span></div>
<div class="t" style="left:143px;top:659px;width:108px;height:21px;font-family:'Noto Sans CJK KR', sans-serif;font-size:16.5px;font-size:16px;padding-bottom:1.5px;box-sizing:border-box;"><span>2</span></div>
<div class="t" style="left:251px;top:659px;width:109px;height:21px;font-family:'Noto Sans CJK KR', sans-serif;font-size:16.5px;font-size:16px;padding-bottom:1.5px;box-sizing:border-box;"><span>0</span></div>
<div class="t" style="left:360px;top:659px;width:105px;height:21px;font-family:'Noto Sans CJK KR', sans-serif;font-size:16.5px;font-size:16px;padding-bottom:1.5px;box-sizing:border-box;"><span>224</span></div>
<div class="t" style="left:465px;top:659px;width:75px;height:21px;font-family:'Noto Sans CJK KR', sans-serif;font-size:16.5px;font-size:16px;padding-bottom:1.5px;box-sizing:border-box;"><span>(0.75)</span></div>
<div class="t" style="left:540px;top:659px;width:131px;height:21px;font-family:'Noto Sans CJK KR', sans-serif;font-size:16.5px;font-size:16px;padding-bottom:1.5px;box-sizing:border-box;"><span>14.01</span></div>
<div class="t" style="left:9px;top:680px;width:134px;height:20px;font-family:'Noto Sans CJK KR', sans-serif;font-size:16.5px;letter-spacing:1.5px;padding-left:1.5px;box-sizing:border-box;"><span>충남</span></div>
<div class="t" style="left:143px;top:680px;width:108px;height:20px;font-family:'Noto Sans CJK KR', sans-serif;font-size:16.5px;font-size:16px;padding-bottom:1.5px;box-sizing:border-box;"><span>15</span></div>
<div class="t" style="left:251px;top:680px;width:109px;height:20px;font-family:'Noto Sans CJK KR', sans-serif;font-size:16.5px;font-size:16px;padding-bottom:1.5px;box-sizing:border-box;"><span>0</span></div>
<div class="t" style="left:360px;top:680px;width:105px;height:20px;font-family:'Noto Sans CJK KR', sans-serif;font-size:16.5px;font-size:16px;padding-bottom:1.5px;box-sizing:border-box;"><span>748</span></div>
<div class="t" style="left:465px;top:680px;width:75px;height:20px;font-family:'Noto Sans CJK KR', sans-serif;font-size:16.5px;font-size:16px;padding-bottom:1.5px;box-sizing:border-box;"><span>(2.49)</span></div>
<div class="t" style="left:540px;top:680px;width:131px;height:20px;font-family:'Noto Sans CJK KR', sans-serif;font-size:16.5px;font-size:16px;padding-bottom:1.5px;box-sizing:border-box;"><span>35.24</span></div>
<div class="t" style="left:9px;top:700px;width:134px;height:21px;font-family:'Noto Sans CJK KR', sans-serif;font-size:16.5px;letter-spacing:1.5px;padding-left:1.5px;box-sizing:border-box;"><span>전북</span></div>
<div class="t" style="left:143px;top:700px;width:108px;height:21px;font-family:'Noto Sans CJK KR', sans-serif;font-size:16.5px;font-size:16px;padding-bottom:1.5px;box-sizing:border-box;"><span>13</span></div>
<div class="t" style="left:251px;top:700px;width:109px;height:21px;font-family:'Noto Sans CJK KR', sans-serif;font-size:16.5px;font-size:16px;padding-bottom:1.5px;box-sizing:border-box;"><span>0</span></div>
<div class="t" style="left:360px;top:700px;width:105px;height:21px;font-family:'Noto Sans CJK KR', sans-serif;font-size:16.5px;font-size:16px;padding-bottom:1.5px;box-sizing:border-box;"><span>194</span></div>
<div class="t" style="left:465px;top:700px;width:75px;height:21px;font-family:'Noto Sans CJK KR', sans-serif;font-size:16.5px;font-size:16px;padding-bottom:1.5px;box-sizing:border-box;"><span>(0.65)</span></div>
<div class="t" style="left:540px;top:700px;width:131px;height:21px;font-family:'Noto Sans CJK KR', sans-serif;font-size:16.5px;font-size:16px;padding-bottom:1.5px;box-sizing:border-box;"><span>10.68</span></div>
<div class="t" style="left:9px;top:721px;width:134px;height:20px;font-family:'Noto Sans CJK KR', sans-serif;font-size:16.5px;letter-spacing:1.5px;padding-left:1.5px;box-sizing:border-box;"><span>전남</span></div>
<div class="t" style="left:143px;top:721px;width:108px;height:20px;font-family:'Noto Sans CJK KR', sans-serif;font-size:16.5px;font-size:16px;padding-bottom:1.5px;box-sizing:border-box;"><span>14</span></div>
<div class="t" style="left:251px;top:721px;width:109px;height:20px;font-family:'Noto Sans CJK KR', sans-serif;font-size:16.5px;font-size:16px;padding-bottom:1.5px;box-sizing:border-box;"><span>0</span></div>
<div class="t" style="left:360px;top:721px;width:105px;height:20px;font-family:'Noto Sans CJK KR', sans-serif;font-size:16.5px;font-size:16px;padding-bottom:1.5px;box-sizing:border-box;"><span>321</span></div>
<div class="t" style="left:465px;top:721px;width:75px;height:20px;font-family:'Noto Sans CJK KR', sans-serif;font-size:16.5px;font-size:16px;padding-bottom:1.5px;box-sizing:border-box;"><span>(1.07)</span></div>
<div class="t" style="left:540px;top:721px;width:131px;height:20px;font-family:'Noto Sans CJK KR', sans-serif;font-size:16.5px;font-size:16px;padding-bottom:1.5px;box-sizing:border-box;"><span>17.21</span></div>
<div class="t" style="left:9px;top:741px;width:134px;height:21px;font-family:'Noto Sans CJK KR', sans-serif;font-size:16.5px;letter-spacing:1.5px;padding-left:1.5px;box-sizing:border-box;"><span>경북</span></div>
<div class="t" style="left:143px;top:741px;width:108px;height:21px;font-family:'Noto Sans CJK KR', sans-serif;font-size:16.5px;font-size:16px;padding-bottom:1.5px;box-sizing:border-box;"><span>7</span></div>
<div class="t" style="left:251px;top:741px;width:109px;height:21px;font-family:'Noto Sans CJK KR', sans-serif;font-size:16.5px;font-size:16px;padding-bottom:1.5px;box-sizing:border-box;"><span>3</span></div>
<div class="t" style="left:360px;top:741px;width:105px;height:21px;font-family:'Noto Sans CJK KR', sans-serif;font-size:16.5px;font-size:16px;padding-bottom:1.5px;box-sizing:border-box;"><span>1,649</span></div>
<div class="t" style="left:465px;top:741px;width:75px;height:21px;font-family:'Noto Sans CJK KR', sans-serif;font-size:16.5px;font-size:16px;padding-bottom:1.5px;box-sizing:border-box;"><span>(5.49)</span></div>
<div class="t" style="left:540px;top:741px;width:131px;height:21px;font-family:'Noto Sans CJK KR', sans-serif;font-size:16.5px;font-size:16px;padding-bottom:1.5px;box-sizing:border-box;"><span>61.93</span></div>
<div class="t" style="left:9px;top:762px;width:134px;height:20px;font-family:'Noto Sans CJK KR', sans-serif;font-size:16.5px;letter-spacing:1.5px;padding-left:1.5px;box-sizing:border-box;"><span>경남</span></div>
<div class="t" style="left:143px;top:762px;width:108px;height:20px;font-family:'Noto Sans CJK KR', sans-serif;font-size:16.5px;font-size:16px;padding-bottom:1.5px;box-sizing:border-box;"><span>18</span></div>
<div class="t" style="left:251px;top:762px;width:109px;height:20px;font-family:'Noto Sans CJK KR', sans-serif;font-size:16.5px;font-size:16px;padding-bottom:1.5px;box-sizing:border-box;"><span>0</span></div>
<div class="t" style="left:360px;top:762px;width:105px;height:20px;font-family:'Noto Sans CJK KR', sans-serif;font-size:16.5px;font-size:16px;padding-bottom:1.5px;box-sizing:border-box;"><span>446</span></div>
<div class="t" style="left:465px;top:762px;width:75px;height:20px;font-family:'Noto Sans CJK KR', sans-serif;font-size:16.5px;font-size:16px;padding-bottom:1.5px;box-sizing:border-box;"><span>(1.49)</span></div>
<div class="t" style="left:540px;top:762px;width:131px;height:20px;font-family:'Noto Sans CJK KR', sans-serif;font-size:16.5px;font-size:16px;padding-bottom:1.5px;box-sizing:border-box;"><span>13.27</span></div>
<div class="t" style="left:9px;top:782px;width:134px;height:21px;font-family:'Noto Sans CJK KR', sans-serif;font-size:16.5px;letter-spacing:1.5px;padding-left:1.5px;box-sizing:border-box;"><span>제주</span></div>
<div class="t" style="left:143px;top:782px;width:108px;height:21px;font-family:'Noto Sans CJK KR', sans-serif;font-size:16.5px;font-size:16px;padding-bottom:1.5px;box-sizing:border-box;"><span>2</span></div>
<div class="t" style="left:251px;top:782px;width:109px;height:21px;font-family:'Noto Sans CJK KR', sans-serif;font-size:16.5px;font-size:16px;padding-bottom:1.5px;box-sizing:border-box;"><span>0</span></div>
<div class="t" style="left:360px;top:782px;width:105px;height:21px;font-family:'Noto Sans CJK KR', sans-serif;font-size:16.5px;font-size:16px;padding-bottom:1.5px;box-sizing:border-box;"><span>65</span></div>
<div class="t" style="left:465px;top:782px;width:75px;height:21px;font-family:'Noto Sans CJK KR', sans-serif;font-size:16.5px;font-size:16px;padding-bottom:1.5px;box-sizing:border-box;"><span>(0.22)</span></div>
<div class="t" style="left:540px;top:782px;width:131px;height:21px;font-family:'Noto Sans CJK KR', sans-serif;font-size:16.5px;font-size:16px;padding-bottom:1.5px;box-sizing:border-box;"><span>9.69</span></div>
<div class="t" style="left:9px;top:803px;width:134px;height:21px;font-family:'Noto Sans CJK KR', sans-serif;font-size:16.5px;letter-spacing:1.5px;padding-left:1.5px;box-sizing:border-box;"><span>검역</span></div>
<div class="t" style="left:143px;top:803px;width:108px;height:21px;font-family:'Noto Sans CJK KR', sans-serif;font-size:16.5px;font-size:16px;padding-bottom:1.5px;box-sizing:border-box;"><span>0</span></div>
<div class="t" style="left:251px;top:803px;width:109px;height:21px;font-family:'Noto Sans CJK KR', sans-serif;font-size:16.5px;font-size:16px;padding-bottom:1.5px;box-sizing:border-box;"><span>23</span></div>
<div class="t" style="left:360px;top:803px;width:105px;height:21px;font-family:'Noto Sans CJK KR', sans-serif;font-size:16.5px;font-size:16px;padding-bottom:1.5px;box-sizing:border-box;"><span>2,081</span></div>
<div class="t" style="left:465px;top:803px;width:75px;height:21px;font-family:'Noto Sans CJK KR', sans-serif;font-size:16.5px;font-size:16px;padding-bottom:1.5px;box-sizing:border-box;"><span>(6.93)</span></div>
<div class="t" style="left:540px;top:803px;width:131px;height:21px;font-family:'Noto Sans CJK KR', sans-serif;font-size:16.5px;font-size:16px;padding-bottom:1.5px;box-sizing:border-box;"><span>-</span></div>
<div class="t" style="left:9px;top:824px;width:134px;height:20px;font-family:'Noto Sans CJK KR', sans-serif;font-size:16.5px;letter-spacing:1.5px;padding-left:1.5px;box-sizing:border-box;"><span>총합계</span></div>
<div class="t" style="left:143px;top:824px;width:108px;height:20px;font-family:'Noto Sans CJK KR', sans-serif;font-size:16.5px;font-size:16px;padding-bottom:1.5px;box-sizing:border-box;"><span>320</span></div>
<div class="t" style="left:251px;top:824px;width:109px;height:20px;font-family:'Noto Sans CJK KR', sans-serif;font-size:16.5px;font-size:16px;padding-bottom:1.5px;box-sizing:border-box;"><span>43</span></div>
<div class="t" style="left:360px;top:824px;width:105px;height:20px;font-family:'Noto Sans CJK KR', sans-serif;font-size:16.5px;font-size:16px;padding-bottom:1.5px;box-sizing:border-box;"><span>30,017</span></div>
<div class="t" style="left:465px;top:824px;width:75px;height:20px;font-family:'Noto Sans CJK KR', sans-serif;font-size:16.5px;font-size:16px;padding-bottom:1.5px;box-sizing:border-box;"><span>(100)</span></div>
<div class="t" style="left:540px;top:824px;width:131px;height:20px;font-family:'Noto Sans CJK KR', sans-serif;font-size:16.5px;font-size:16px;padding-bottom:1.5px;box-sizing:border-box;"><span>57.89</span></div>
<div class="w" style="left:22px;top:844.2px;font-family:'Noto Sans CJK KR', sans-serif;font-size:13.5px;white-space:pre;letter-spacing:1.3px;word-spacing:1.8px;line-height:18px;">* 지역별 <span class="d">1</span>월 이후 누적 확진자수 / 지역별 인구 (‘<span class="d">20.1</span>월 행정안전부 주민등록인구현황 기준)</div>
<div class="w" style="left:22px;top:866.5px;font-family:'Noto Sans CJK KR', sans-serif;font-size:13.5px;white-space:pre;letter-spacing:1.3px;word-spacing:1.8px;line-height:18px;">** 신고 기관 주소 환자 수에 대한 발생률로 실제 해당지역 발생률과 차이가 있음</div>
</body></html>
